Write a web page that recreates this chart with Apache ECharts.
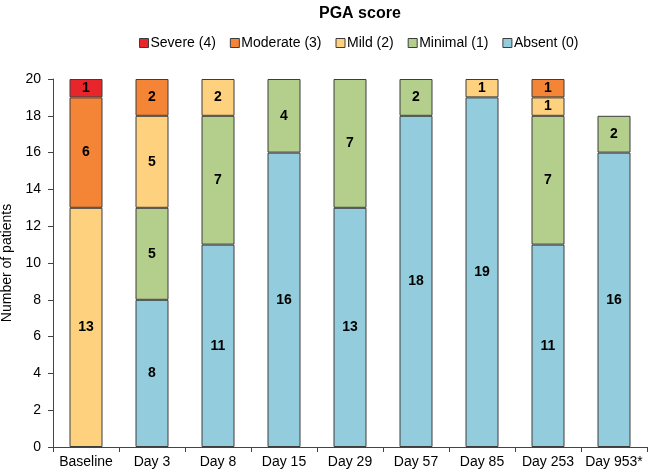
<!DOCTYPE html>
<html><head><meta charset="utf-8">
<script src="https://cdn.jsdelivr.net/npm/echarts@6/dist/echarts.min.js"></script>
<style>html,body{margin:0;padding:0;background:#fff}#c{width:650px;height:473px}</style>
</head><body><div id="c"></div>
<script>
var categories = ['Baseline','Day 3','Day 8','Day 15','Day 29','Day 57','Day 85','Day 253','Day 953*'];
var absent   = [0, 8, 11, 16, 13, 18, 19, 11, 16];
var minimal  = [0, 5, 7, 4, 7, 2, 0, 7, 2];
var mild     = [13, 5, 2, 0, 0, 0, 1, 1, 0];
var moderate = [6, 2, 0, 0, 0, 0, 0, 1, 0];
var severe   = [1, 0, 0, 0, 0, 0, 0, 0, 0];
var seriesNames = ['Severe (4)','Moderate (3)','Mild (2)','Minimal (1)','Absent (0)'];
var colors = {'Severe (4)':'#e8252b','Moderate (3)':'#f48536','Mild (2)':'#fdd17e','Minimal (1)':'#b4cf8c','Absent (0)':'#93cddd'};

var font = 'Liberation Sans, Arial, sans-serif';
function mk(name, data){
  return {name:name, type:'bar', stack:'t', barWidth:'50%', data:data.map(function(v){return v===0?null:v;}),
    itemStyle:{color:colors[name], borderColor:'#3d3d3d', borderWidth:1},
    label:{show:true, position:'inside', color:'#000', fontWeight:'bold', fontSize:14, fontFamily:font},
    emphasis:{disabled:true}};
}
var chart = echarts.init(document.getElementById('c'));
chart.setOption({
  animation:false,
  textStyle:{fontFamily:font},
  title:{text:'PGA score', left:314, top:1, textStyle:{fontSize:16, fontWeight:'bold', color:'#000', fontFamily:font}},
  legend:{data:seriesNames, top:31, left:134, itemWidth:9, itemHeight:9, itemGap:14,
    textStyle:{fontSize:14, color:'#000', padding:[0,0,0,-3]}, icon:'rect',
    itemStyle:{borderColor:'#3d3d3d', borderWidth:1}},
  grid:{left:53, right:3, top:79, bottom:26, containLabel:false, outerBoundsMode:'none'},
  xAxis:{type:'category', data:categories,
    axisLine:{lineStyle:{color:'#444', width:1}},
    axisTick:{show:true, alignWithLabel:false, length:5, lineStyle:{color:'#444'}},
    axisLabel:{color:'#000', fontSize:14, margin:8, interval:0}},
  yAxis:{type:'value', min:0, max:20, interval:2, name:'Number of patients', nameLocation:'middle', nameGap:38,
    nameTextStyle:{fontSize:14, color:'#000'},
    axisLine:{show:true, lineStyle:{color:'#444', width:1}},
    axisTick:{show:true, length:5, lineStyle:{color:'#444'}},
    splitLine:{show:false},
    axisLabel:{color:'#000', fontSize:14, margin:12}},
  series:[mk('Absent (0)', absent), mk('Minimal (1)', minimal), mk('Mild (2)', mild), mk('Moderate (3)', moderate), mk('Severe (4)', severe)]
});
</script></body></html>
